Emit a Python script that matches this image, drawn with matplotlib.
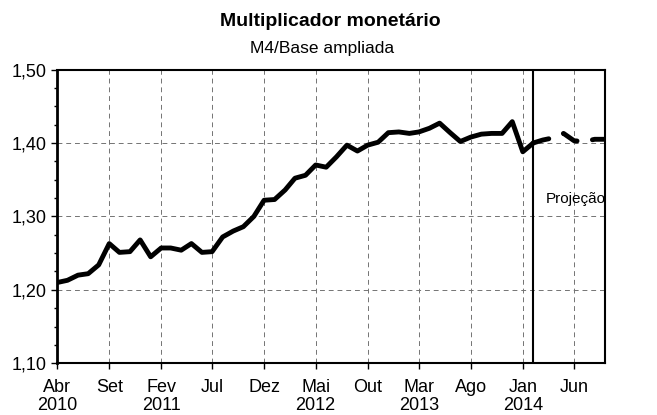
import matplotlib
matplotlib.use("Agg")
import matplotlib.pyplot as plt
import pandas as pd
from matplotlib import font_manager

# Multiplicador monetário (M4 / base ampliada), mensal, abr/2010 a fev/2014
observed = [
    1.210, 1.213, 1.220, 1.222, 1.234, 1.263, 1.251, 1.252, 1.268,
    1.245, 1.257, 1.257, 1.254, 1.263, 1.251, 1.252, 1.272, 1.280,
    1.286, 1.300, 1.322, 1.323, 1.336, 1.352, 1.356, 1.370, 1.367,
    1.381, 1.397, 1.389, 1.397, 1.401, 1.414, 1.415, 1.413, 1.415,
    1.420, 1.427, 1.414, 1.402, 1.408, 1.412, 1.413, 1.413, 1.429,
    1.388, 1.400,
]
# Projeção fev/2014 a set/2014
projection = [1.400, 1.404, 1.407, 1.413, 1.403, 1.402, 1.405, 1.405]

obs_dates = pd.date_range("2010-04-01", periods=len(observed), freq="MS")
proj_dates = pd.date_range(obs_dates[-1], periods=len(projection), freq="MS")

tick_dates = pd.date_range("2010-04-01", "2014-06-01", freq="5MS")
tick_labels = ["Abr\n2010", "Set", "Fev\n2011", "Jul", "Dez", "Mai\n2012",
               "Out", "Mar\n2013", "Ago", "Jan\n2014", "Jun"]
y_ticks = [1.10, 1.20, 1.30, 1.40, 1.50]
y_labels = ["1,10", "1,20", "1,30", "1,40", "1,50"]

installed = {f.name for f in font_manager.fontManager.ttflist}
NARROW = "Liberation Sans Narrow" if "Liberation Sans Narrow" in installed else "Liberation Sans"
REGULAR = "Liberation Sans"

fig = plt.figure(figsize=(6.57, 4.15), dpi=100)
ax = fig.add_axes([0.0872, 0.1246, 0.8341, 0.7079])

ax.plot(obs_dates, observed, color="black", lw=3.5, solid_capstyle="round",
        solid_joinstyle="round", zorder=3)
ax.plot(proj_dates, projection, color="black", lw=3.5, dashes=(3.3, 3.2),
        dash_capstyle="round", zorder=3)
ax.axvline(obs_dates[-1], color="black", lw=1.5, zorder=2)

ax.set_xlim(obs_dates[0], pd.Timestamp("2014-09-01"))
ax.set_ylim(1.10, 1.50)

ax.set_xticks(tick_dates)
ax.set_xticklabels(tick_labels, fontfamily=NARROW, fontsize=13, linespacing=1.1)
ax.set_yticks(y_ticks)
ax.set_yticklabels(y_labels, fontfamily=NARROW, fontsize=13)
ax.yaxis.set_minor_locator(matplotlib.ticker.MultipleLocator(0.025))
ax.tick_params(axis="x", direction="out", length=4, width=1, pad=7)
ax.tick_params(axis="y", direction="out", length=4, width=1, pad=4)
ax.tick_params(axis="y", which="minor", direction="out", length=2.5, width=1)

ax.grid(True, which="major", color="0.45", lw=0.7, linestyle=(0, (5, 4)))
ax.set_axisbelow(True)
for side, spine in ax.spines.items():
    spine.set_linewidth(2.0 if side == "left" else 1.5)

ax.text(pd.Timestamp("2014-09-01"), 1.324, "Projeção", ha="right", va="center",
        fontfamily=REGULAR, fontsize=11, clip_on=False)

fig.text(0.502, 0.947, "Multiplicador monetário", ha="center", va="center",
         fontfamily=REGULAR, fontsize=14, fontweight="bold")
fig.text(0.49, 0.884, "M4/Base ampliada", ha="center", va="center",
         fontfamily=REGULAR, fontsize=12.5)

fig.savefig("out.png", dpi=100, facecolor="white")
